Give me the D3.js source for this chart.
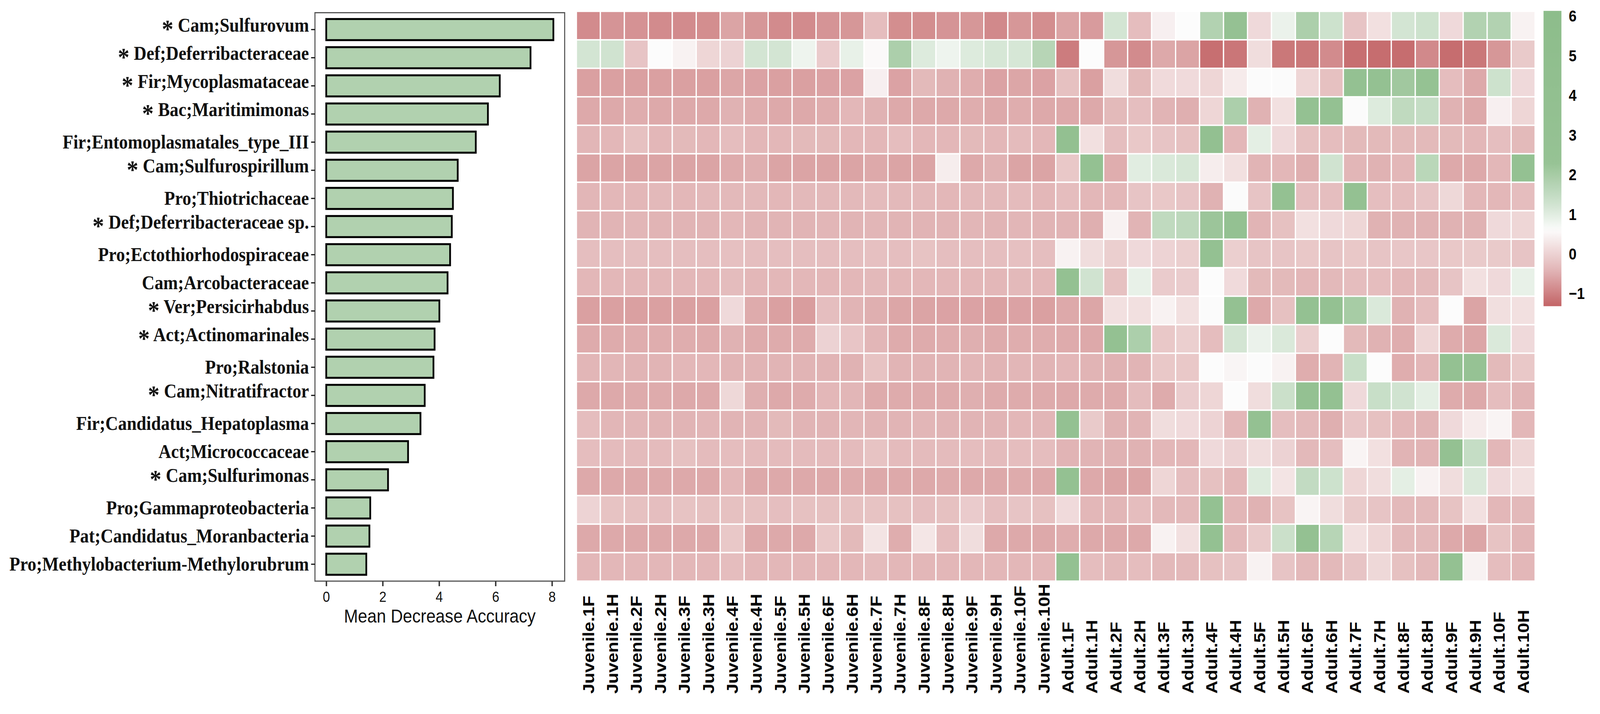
<!DOCTYPE html>
<html><head><meta charset="utf-8">
<script src="https://cdn.jsdelivr.net/npm/d3@7"></script>
<style>
html,body{margin:0;padding:0;background:#fff;width:100%;height:100%;overflow:hidden}
#chart{display:block;width:100vw;height:100vh}
</style>
</head><body>
<svg id="chart" viewBox="0 0 4562 1827" preserveAspectRatio="none"></svg>
<script>
// ---------------- DATA ----------------
const taxa = [
  "* Cam;Sulfurovum", "* Def;Deferribacteraceae", "* Fir;Mycoplasmataceae", "* Bac;Maritimimonas",
  "Fir;Entomoplasmatales_type_III", "* Cam;Sulfurospirillum", "Pro;Thiotrichaceae",
  "* Def;Deferribacteraceae sp.", "Pro;Ectothiorhodospiraceae", "Cam;Arcobacteraceae",
  "* Ver;Persicirhabdus", "* Act;Actinomarinales", "Pro;Ralstonia", "* Cam;Nitratifractor",
  "Fir;Candidatus_Hepatoplasma", "Act;Micrococcaceae", "* Cam;Sulfurimonas",
  "Pro;Gammaproteobacteria", "Pat;Candidatus_Moranbacteria", "Pro;Methylobacterium-Methylorubrum"
];
const importance = [8.05, 7.24, 6.15, 5.73, 5.30, 4.66, 4.49, 4.45, 4.39, 4.30,
  4.01, 3.84, 3.80, 3.49, 3.34, 2.90, 2.19, 1.56, 1.53, 1.42];
const barTicks = [0, 2, 4, 6, 8];

const samples = [
  "Juvenile.1F","Juvenile.1H","Juvenile.2F","Juvenile.2H","Juvenile.3F","Juvenile.3H","Juvenile.4F","Juvenile.4H",
  "Juvenile.5F","Juvenile.5H","Juvenile.6F","Juvenile.6H","Juvenile.7F","Juvenile.7H","Juvenile.8F","Juvenile.8H",
  "Juvenile.9F","Juvenile.9H","Juvenile.10F","Juvenile.10H",
  "Adult.1F","Adult.1H","Adult.2F","Adult.2H","Adult.3F","Adult.3H","Adult.4F","Adult.4H",
  "Adult.5F","Adult.5H","Adult.6F","Adult.6H","Adult.7F","Adult.7H","Adult.8F","Adult.8H",
  "Adult.9F","Adult.9H","Adult.10F","Adult.10H"
];

// scaled abundance, one row per taxon, juvenile samples (20 columns)
const heatJuvenile = [
  [-0.88,-0.78,-0.8,-0.88,-0.88,-0.85,-0.6,-0.75,-0.88,-0.88,-0.78,-0.75,-0.3,-0.85,-0.85,-0.78,-0.75,-0.9,-0.75,-0.85],
  [1.2,1.25,-0.2,0.6,0.45,0.05,0.0,1.2,1.2,0.8,-0.1,0.9,0.55,1.9,1.05,0.8,1.05,1.15,1.15,1.7],
  [-0.65,-0.65,-0.65,-0.65,-0.65,-0.65,-0.58,-0.62,-0.65,-0.65,-0.62,-0.62,0.42,-0.62,-0.35,-0.45,-0.5,-0.62,-0.58,-0.62],
  [-0.55,-0.55,-0.5,-0.55,-0.55,-0.55,-0.45,-0.5,-0.55,-0.55,-0.5,-0.38,-0.45,-0.55,-0.55,-0.55,-0.5,-0.55,-0.5,-0.55],
  [-0.4,-0.38,-0.25,-0.38,-0.35,-0.38,-0.3,-0.38,-0.38,-0.35,-0.35,-0.38,-0.38,-0.3,-0.38,-0.38,-0.35,-0.38,-0.33,-0.38],
  [-0.6,-0.6,-0.6,-0.6,-0.6,-0.6,-0.52,-0.48,-0.6,-0.6,-0.6,-0.6,-0.55,-0.6,-0.6,0.38,-0.55,-0.45,-0.6,-0.6],
  [-0.4,-0.38,-0.38,-0.36,-0.38,-0.36,-0.36,-0.36,-0.38,-0.36,-0.36,-0.36,-0.33,-0.36,-0.36,-0.38,-0.36,-0.36,-0.33,-0.38],
  [-0.42,-0.42,-0.4,-0.42,-0.42,-0.42,-0.38,-0.42,-0.42,-0.42,-0.4,-0.42,-0.4,-0.42,-0.42,-0.42,-0.4,-0.42,-0.4,-0.42],
  [-0.28,-0.28,-0.27,-0.28,-0.28,-0.28,-0.26,-0.28,-0.28,-0.28,-0.28,-0.28,-0.26,-0.28,-0.22,-0.28,-0.28,-0.28,-0.26,-0.28],
  [-0.38,-0.38,-0.38,-0.38,-0.38,-0.38,-0.32,-0.38,-0.38,-0.38,-0.38,-0.38,-0.36,-0.38,-0.38,-0.38,-0.38,-0.38,-0.36,-0.38],
  [-0.65,-0.65,-0.65,-0.65,-0.65,-0.65,0.1,-0.52,-0.65,-0.68,-0.28,-0.42,-0.48,-0.58,-0.6,-0.62,-0.62,-0.65,-0.62,-0.65],
  [-0.52,-0.52,-0.5,-0.5,-0.5,-0.52,-0.45,-0.52,-0.52,-0.52,0.0,-0.18,-0.4,-0.52,-0.52,-0.5,-0.48,-0.52,-0.5,-0.5],
  [-0.4,-0.4,-0.42,-0.42,-0.38,-0.38,-0.42,-0.42,-0.42,-0.42,-0.42,-0.45,-0.22,-0.42,-0.42,-0.42,-0.4,-0.42,-0.4,-0.42],
  [-0.55,-0.55,-0.52,-0.52,-0.55,-0.55,0.08,-0.48,-0.55,-0.52,-0.38,-0.4,-0.52,-0.52,-0.52,-0.52,-0.48,-0.52,-0.52,-0.52],
  [-0.3,-0.4,-0.4,-0.42,-0.42,-0.4,-0.42,-0.42,-0.35,-0.42,-0.42,-0.4,-0.42,-0.42,-0.4,-0.42,-0.42,-0.42,-0.38,-0.4],
  [-0.3,-0.33,-0.33,-0.33,-0.25,-0.33,-0.3,-0.33,-0.33,-0.33,-0.33,-0.33,-0.22,-0.33,-0.33,-0.33,-0.3,-0.33,-0.3,-0.3],
  [-0.55,-0.55,-0.55,-0.55,-0.55,-0.55,-0.38,-0.55,-0.55,-0.55,-0.55,-0.52,-0.55,-0.55,-0.55,-0.52,-0.55,-0.55,-0.52,-0.55],
  [0.02,-0.22,-0.25,-0.28,-0.22,-0.25,-0.25,-0.25,-0.28,-0.25,-0.25,-0.25,-0.22,-0.25,-0.28,-0.25,-0.1,-0.28,-0.2,-0.25],
  [-0.55,-0.55,-0.55,-0.55,-0.55,-0.55,-0.15,-0.55,-0.55,-0.55,-0.15,-0.35,0.25,-0.5,0.28,-0.3,0.15,-0.55,-0.55,-0.55],
  [-0.38,-0.38,-0.38,-0.38,-0.38,-0.38,-0.3,-0.38,-0.38,-0.38,-0.38,-0.38,-0.33,-0.38,-0.38,-0.38,-0.38,-0.38,-0.38,-0.38]
];
// adult samples (20 columns)
const heatAdult = [
  [-0.6,-0.7,1.2,-0.3,0.42,0.6,1.8,2.8,0.1,0.85,1.9,1.3,-0.2,0.2,1.2,1.3,0.1,1.8,1.8,0.45],
  [-1.05,0.6,-0.75,-0.88,-0.55,-0.6,-1.2,-1.12,0.15,-1.1,-1.1,-0.88,-1.2,-1.22,-1.22,-0.9,-1.22,-1.1,-0.75,-0.12],
  [-0.25,-0.65,0.15,-0.35,0.12,0.12,0.05,0.35,0.62,0.62,0.05,-0.25,3.0,3.2,2.1,2.6,-0.3,-0.55,1.3,0.1],
  [-0.55,-0.55,-0.35,-0.28,-0.42,-0.48,0.05,1.9,-0.45,0.2,3.0,3.0,0.62,1.05,1.55,1.45,-0.45,-0.55,0.42,0.05],
  [3.5,0.2,-0.28,-0.15,-0.2,-0.25,3.5,-0.38,0.95,0.1,-0.25,-0.3,-0.35,-0.35,-0.35,-0.35,-0.35,-0.38,-0.28,-0.35],
  [-0.15,3.3,-0.5,1.0,1.1,1.15,0.38,0.2,-0.42,-0.38,-0.48,1.25,-0.4,-0.45,-0.38,1.65,-0.55,-0.55,-0.38,3.3],
  [-0.3,-0.38,-0.38,-0.2,-0.15,-0.2,-0.45,0.62,-0.2,3.3,-0.28,-0.28,3.3,-0.28,-0.3,-0.2,0.08,-0.38,-0.38,-0.3],
  [-0.42,-0.48,0.45,-0.42,1.55,1.6,2.2,3.2,-0.42,-0.25,0.2,0.1,0.05,-0.45,-0.45,-0.45,-0.45,-0.45,0.1,0.05],
  [0.45,0.15,-0.05,0.1,0.02,-0.05,3.3,-0.05,-0.2,-0.2,-0.15,-0.2,-0.15,-0.2,-0.17,-0.17,-0.15,-0.12,-0.12,-0.2],
  [3.3,1.25,-0.25,0.9,-0.1,-0.08,0.6,0.12,-0.35,-0.35,-0.38,-0.36,-0.3,-0.3,-0.38,-0.36,-0.2,0.2,0.1,0.9],
  [-0.55,-0.58,0.2,0.2,0.45,0.2,0.62,3.0,-0.55,-0.25,3.2,3.0,2.0,1.1,-0.45,-0.3,0.6,-0.6,0.18,0.2],
  [-0.52,-0.55,3.2,1.9,-0.15,-0.05,-0.3,1.2,0.85,1.1,-0.05,0.6,-0.35,-0.45,-0.5,0.05,-0.52,-0.58,1.1,0.1],
  [-0.38,-0.42,-0.45,-0.42,-0.15,-0.15,0.6,0.5,0.58,0.45,-0.5,-0.42,1.4,0.6,-0.5,-0.38,3.2,2.4,-0.35,-0.15],
  [-0.55,-0.52,-0.52,-0.32,-0.52,-0.08,0.05,0.6,0.15,1.35,3.1,3.1,0.1,1.4,1.25,0.95,-0.52,-0.55,-0.3,-0.42],
  [3.3,-0.12,-0.45,-0.42,0.15,0.12,0.02,-0.38,3.3,-0.28,-0.36,-0.48,-0.18,-0.25,-0.38,-0.42,0.1,0.35,0.48,-0.38],
  [-0.42,-0.42,-0.45,-0.45,-0.38,-0.38,0.1,0.0,0.15,0.0,-0.36,-0.28,0.48,0.2,-0.42,-0.42,3.3,1.45,-0.38,0.05],
  [3.3,-0.55,-0.6,-0.6,0.05,-0.28,-0.25,-0.38,1.05,0.25,1.5,1.3,0.05,0.15,0.95,0.45,0.15,1.1,0.1,0.2],
  [0.12,-0.38,-0.4,-0.3,-0.36,-0.36,3.3,-0.4,-0.45,-0.22,0.48,0.15,-0.12,-0.2,-0.36,-0.36,-0.22,0.2,-0.38,-0.36],
  [-0.5,-0.55,-0.55,-0.55,0.45,0.2,3.3,-0.36,-0.12,1.35,3.2,1.7,0.2,0.05,-0.36,-0.36,-0.55,-0.58,-0.22,-0.4],
  [3.3,-0.3,-0.36,-0.3,-0.36,-0.36,-0.25,-0.2,0.45,-0.2,-0.36,-0.36,-0.2,0.08,-0.25,-0.36,3.3,0.45,-0.3,-0.38]
];
const legendTicks = [6, 5, 4, 3, 2, 1, 0, -1];
const legendRange = [-1.32, 6.13];

// ---------------- DRAW ----------------
const svg = d3.select("#chart");
svg.append("rect").attr("width", 4562).attr("height", 1827).attr("fill", "#fff");

const color = d3.scaleLinear()
  .domain([-1.32, -0.4, 0.6, 1.2, 2.3, 6.13])
  .range(["#c36466", "#e2b6b7", "#fcfcfc", "#d3e5d3", "#96c294", "#8dbd8b"])
  .clamp(true);

// ---- bar chart ----
const panel = {x0: 898, x1: 1610, y0: 32.5, y1: 1487};
const xBar = d3.scaleLinear().domain([-0.4, 8.45]).range([panel.x0, panel.x1]);
const yBar = d3.scaleBand().domain(taxa).range([panel.y0, panel.y1])
  .paddingInner(0.25).paddingOuter(0.225);

const barG = svg.append("g");
barG.selectAll("rect.bar").data(taxa).join("rect")
  .attr("class", "bar")
  .attr("x", xBar(0))
  .attr("y", d => yBar(d))
  .attr("width", (d, i) => xBar(importance[i]) - xBar(0))
  .attr("height", yBar.bandwidth())
  .attr("fill", "#b1d1af")
  .attr("stroke", "#000")
  .attr("stroke-width", 5);

barG.append("rect")
  .attr("x", panel.x0).attr("y", panel.y0)
  .attr("width", panel.x1 - panel.x0).attr("height", panel.y1 - panel.y0)
  .attr("fill", "none").attr("stroke", "#555").attr("stroke-width", 3);

// y axis (taxa labels)
const yAxisG = svg.append("g").attr("transform", `translate(${panel.x0},0)`)
  .call(d3.axisLeft(yBar).tickSize(11).tickPadding(6));
yAxisG.select(".domain").remove();
yAxisG.selectAll(".tick line").attr("stroke", "#111").attr("stroke-width", 3);
yAxisG.selectAll(".tick text").each(function(d) {
  const t = d3.select(this);
  t.text(null)
    .attr("font-family", "'Liberation Serif', 'Times New Roman', serif")
    .attr("font-weight", "bold")
    .attr("font-size", 50)
    .attr("fill", "#111");
  if (d.startsWith("* ")) {
    t.append("tspan").attr("dy", "0.3em").attr("font-size", 66).text("*");
    t.append("tspan").attr("dy", "-0.3em").text(" " + d.slice(2));
  } else {
    t.append("tspan").text(d);
  }
});

// x axis
const xAxisG = svg.append("g").attr("transform", `translate(0,${panel.y1})`)
  .call(d3.axisBottom(xBar).tickValues(barTicks).tickSize(13).tickPadding(14));
xAxisG.select(".domain").remove();
xAxisG.selectAll(".tick line").attr("stroke", "#333").attr("stroke-width", 4);
xAxisG.selectAll(".tick text")
  .attr("font-family", "'Liberation Sans', Arial, sans-serif")
  .attr("font-size", 37).attr("fill", "#111");

svg.append("text")
  .attr("x", (panel.x0 + panel.x1) / 2).attr("y", 1577)
  .attr("text-anchor", "middle").attr("dominant-baseline", "central")
  .attr("font-family", "'Liberation Sans', Arial, sans-serif")
  .attr("font-size", 48).attr("fill", "#111")
  .text("Mean Decrease Accuracy");

// ---- heatmap ----
const xHeat = d3.scaleBand().domain(samples).range([1643.5, 4377]);
const yHeat = d3.scaleBand().domain(taxa).range([29, 1487]);
const cells = [];
taxa.forEach((t, r) => {
  samples.forEach((s, c) => {
    const v = c < 20 ? heatJuvenile[r][c] : heatAdult[r][c - 20];
    cells.push({t, s, v});
  });
});
svg.append("g").selectAll("rect").data(cells).join("rect")
  .attr("x", d => xHeat(d.s)).attr("y", d => yHeat(d.t))
  .attr("width", xHeat.bandwidth()).attr("height", yHeat.bandwidth())
  .attr("fill", d => color(d.v))
  .attr("stroke", "#fff").attr("stroke-width", 3.5);

// column labels
svg.append("g").selectAll("text").data(samples).join("text")
  .attr("transform", d => `translate(${xHeat(d) + xHeat.bandwidth() / 2},1775) rotate(-90)`)
  .attr("dy", "0.35em")
  .attr("text-anchor", "start")
  .attr("font-family", "'Liberation Sans', Arial, sans-serif")
  .attr("font-weight", "bold").attr("font-size", 46).attr("fill", "#000")
  .text(d => d);

// ---- legend ----
const legendY = d3.scaleLinear().domain([-1, 6]).range([751, 41]);
const defs = svg.append("defs");
const grad = defs.append("linearGradient").attr("id", "legGrad")
  .attr("x1", 0).attr("y1", 1).attr("x2", 0).attr("y2", 0);
d3.range(0, 61).forEach(i => {
  const v = legendRange[0] + (legendRange[1] - legendRange[0]) * i / 60;
  grad.append("stop").attr("offset", i / 60).attr("stop-color", color(v));
});
svg.append("rect")
  .attr("x", 4401).attr("y", legendY(legendRange[1]))
  .attr("width", 51).attr("height", legendY(legendRange[0]) - legendY(legendRange[1]))
  .attr("fill", "url(#legGrad)");
svg.append("g").selectAll("text").data(legendTicks).join("text")
  .attr("x", 4473).attr("y", d => legendY(d))
  .attr("dy", "0.36em")
  .attr("font-family", "'Liberation Sans', Arial, sans-serif")
  .attr("font-weight", "bold").attr("font-size", 40).attr("fill", "#000")
  .text(d => d < 0 ? "\u2212" + Math.abs(d) : d);
</script>
</body></html>
